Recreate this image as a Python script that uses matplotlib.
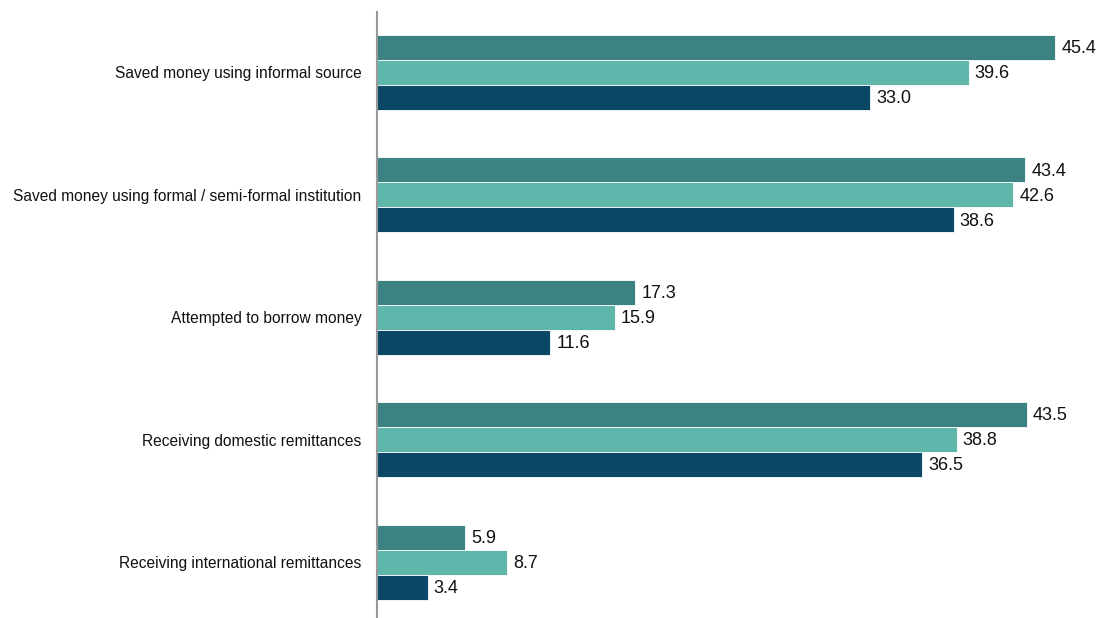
import matplotlib
matplotlib.use("Agg")
import matplotlib.pyplot as plt
import numpy as np

plt.rcParams['font.family'] = ['Liberation Sans', 'DejaVu Sans']

categories = [
    "Saved money using informal source",
    "Saved money using formal / semi-formal institution",
    "Attempted to borrow money",
    "Receiving domestic remittances",
    "Receiving international remittances",
]
series_a = [45.4, 43.4, 17.3, 43.5, 5.9]
series_b = [39.6, 42.6, 15.9, 38.8, 8.7]
series_c = [33.0, 38.6, 11.6, 36.5, 3.4]

colors = ["#3c8282", "#5fb7ab", "#0b4868"]

fig = plt.figure(figsize=(11, 6.18), dpi=100)
ax = fig.add_axes([377/1100, 0.0, 1 - 377/1100, 1 - 12/618])

y = np.arange(len(categories))
h = 0.204
for i, (vals, col) in enumerate(zip([series_a, series_b, series_c], colors)):
    pos = y + (i - 1) * h
    ax.barh(pos, vals, height=h, color=col, edgecolor="white", linewidth=0.6)
    for p, v in zip(pos, vals):
        ax.text(v + 0.4, p + 0.01, f"{v:.1f}", va="center", ha="left",
                fontsize=13, color="#111111")

ax.set_ylim(4.457, -0.494)
ax.set_xlim(0, 48.4)
ax.set_yticks(y)
ax.set_yticklabels(categories, fontsize=11.2, color="#111111")
ax.tick_params(axis="y", length=0, pad=11)
ax.set_xticks([])
for s in ["top", "right", "bottom"]:
    ax.spines[s].set_visible(False)
ax.spines["left"].set_color("#999999")
ax.spines["left"].set_linewidth(1.5)

fig.savefig("out.png", dpi=100)
